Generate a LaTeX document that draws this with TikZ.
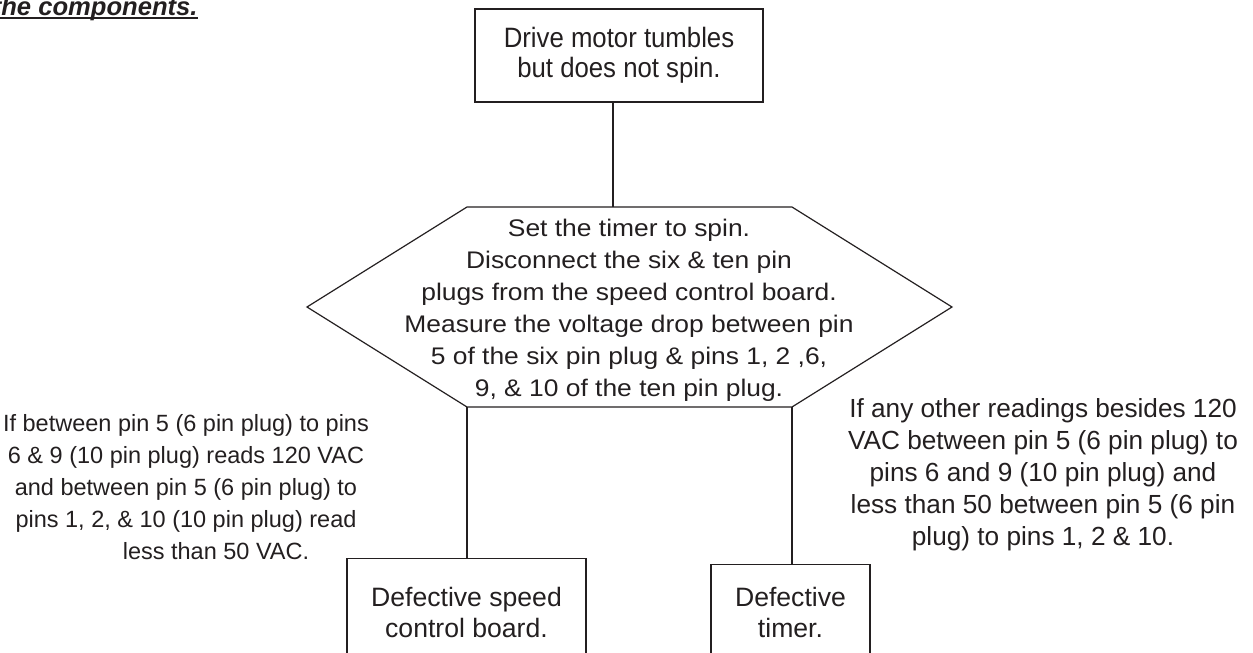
\documentclass[tikz,border=0pt]{standalone}
\usepackage{fontspec}
\setmainfont{Liberation Sans}
\newfontfamily\narrowfont{Liberation Sans}[FakeStretch=0.92]
\newfontfamily\widefont{Liberation Sans}[FakeStretch=1.1]
\usetikzlibrary{positioning, calc}
\definecolor{inkgray}{HTML}{231F20}
\tikzset{
  pbox/.style={rectangle, draw=inkgray, line width=0.6pt, inner sep=0pt,
               align=center, text=inkgray},
  note/.style={inner sep=0pt, align=center, text=inkgray,
               font=\fontsize{11.75}{16}\selectfont},
  link/.style={draw=inkgray, line width=0.6pt},
}

\begin{document}
\begin{tikzpicture}[x=0.5pt, y=-0.5pt]
  \useasboundingbox (0,0) rectangle (1253,653);
  \clip (0,0) rectangle (1253,653);

  % Heading (cut off at the page edge)
  \node[anchor=base east, inner sep=0pt, text=inkgray,
        font=\fontsize{12.8}{15}\selectfont\bfseries\itshape] (head) at (198,15) {the components.};
  \draw[link, line width=1pt] ([yshift=-1.6pt]head.base west) -- ([yshift=-1.6pt]head.base east);

  % Boxes
  \node[pbox, minimum width=144pt, minimum height=46.5pt,
        font=\narrowfont\fontsize{14}{15}\selectfont] (motor) at (619,55.5) {Drive motor tumbles\\but does not spin.};
  \node[pbox, anchor=north, minimum width=119.5pt, minimum height=54pt,
        font=\fontsize{13.3}{15.5}\selectfont] (speed) at (466.5,558) {Defective speed\\control board.};
  \node[pbox, anchor=north, minimum width=79.5pt, minimum height=48pt,
        font=\fontsize{13.3}{15.5}\selectfont] (timer) at (790.5,564) {Defective\\timer.};

  % Hexagon
  \node[note, font=\widefont\fontsize{12}{16}\selectfont] (check) at (629,310)
    {Set the timer to spin.\\Disconnect the six \& ten pin\\plugs from the speed control board.\\Measure the voltage drop between pin\\5 of the six pin plug \& pins 1, 2 ,6,\\9, \& 10 of the ten pin plug.};
  \coordinate (hexTL) at (467,207);
  \coordinate (hexTR) at (792,207);
  \coordinate (hexR) at (952,307);
  \coordinate (hexBR) at (792,407);
  \coordinate (hexBL) at (467,407);
  \coordinate (hexL) at (307,307);
  \coordinate (hexT) at (613,207);
  \draw[link] (hexTL) -- (hexTR) -- (hexR) -- (hexBR) -- (hexBL) -- (hexL) -- cycle;

  % Labels
  \node[note] (ifok) at (186,487) {If between pin 5 (6 pin plug) to pins\\6 \& 9 (10 pin plug) reads 120 VAC\\and between pin 5  (6 pin plug) to\\pins 1,  2, \& 10  (10 pin plug) read\\\hspace*{30pt}less than 50 VAC.};
  \node[note, font=\fontsize{13.1}{16}\selectfont] (ifnot) at (1043,475) {If any other readings besides 120\\VAC between pin 5  (6 pin plug) to\\pins  6 and 9 (10 pin plug)  and\\less than 50 between pin 5 (6 pin\\plug) to pins 1, 2 \& 10.};

  % Connectors
  \draw[link] (hexT |- motor.south) -- (hexT);
  \draw[link] (hexBL) -- (hexBL |- speed.north);
  \draw[link] (hexBR) -- (hexBR |- timer.north);
\end{tikzpicture}
\end{document}
